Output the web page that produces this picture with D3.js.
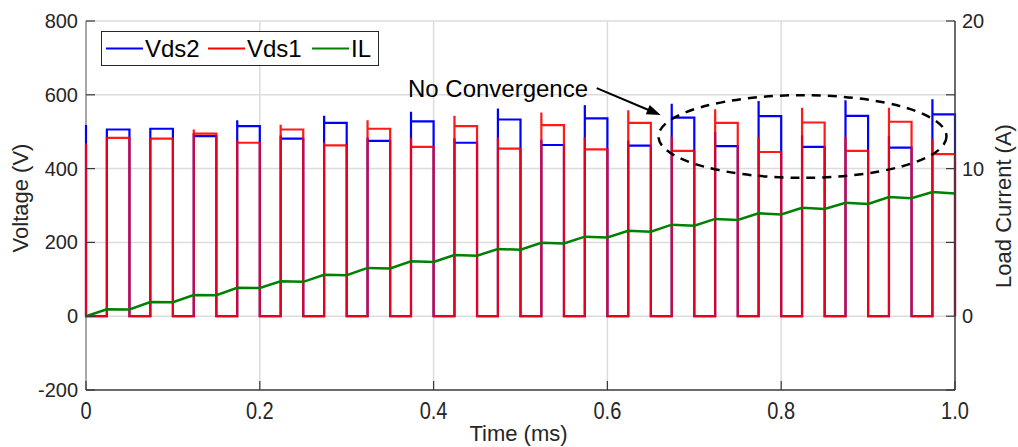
<!DOCTYPE html>
<html>
<head>
<meta charset="utf-8">
<script src="https://cdn.jsdelivr.net/npm/d3@7"></script>
<style>
  html, body { margin: 0; padding: 0; background: #fff; }
  svg { display: block; font-family: "Liberation Sans", Arial, Helvetica, sans-serif; }
</style>
</head>
<body>
<svg id="chart" width="1018" height="447"></svg>
<script>
// ---------------- data ----------------
const xTicks = [0, 0.2, 0.4, 0.6, 0.8, 1.0];
const xTickLabels = ["0", "0.2", "0.4", "0.6", "0.8", "1.0"];
const yTicks = [-200, 0, 200, 400, 600, 800];
const yRightTicks = [-5, 0, 5, 10, 15, 20];
const yRightLabels = [0, 10, 20];

// switching instants (ms)
const riseTimes = [0.024, 0.074, 0.124, 0.174, 0.224, 0.274, 0.324, 0.374, 0.424, 0.474,
                   0.524, 0.574, 0.624, 0.674, 0.724, 0.774, 0.824, 0.874, 0.924, 0.974];
const fallTimes = [0.05, 0.10, 0.15, 0.20, 0.25, 0.30, 0.35, 0.40, 0.45, 0.50,
                   0.55, 0.60, 0.65, 0.70, 0.75, 0.80, 0.85, 0.90, 0.95, 1.00];

// initial value at t = 0 (V)
const vds2Start = 518;
const vds1Start = 468;

// Vds2 (blue) per pulse: spike at turn-off edge and plateau (V)
const vds2Peak = [506, 508, 496, 531, 490, 543, 484, 554, 482, 563,
                  478, 572, 476, 576, 499, 583, 490, 585, 488, 588];
const vds2Flat = [506, 508, 488, 515, 481, 524, 475, 528, 470, 533,
                  464, 536, 462, 538, 461, 542, 459, 543, 457, 547];
// Vds1 (red)
const vds1Peak = [483, 481, 506, 476, 519, 471, 531, 483, 543, 484,
                  552, 484, 558, 486, 561, 486, 565, 486, 565, 480];
const vds1Flat = [483, 481, 495, 470, 506, 463, 508, 459, 515, 454,
                  518, 452, 524, 448, 524, 445, 525, 448, 527, 439];

// Load current IL (A): value at start and end of each plateau
const ilStart = [0.47, 0.96, 1.44, 1.93, 2.36, 2.81, 3.27, 3.72, 4.15, 4.55,
                 4.98, 5.39, 5.79, 6.20, 6.59, 6.97, 7.35, 7.69, 8.08, 8.41];
const ilEnd   = [0.46, 0.95, 1.42, 1.91, 2.33, 2.78, 3.23, 3.68, 4.10, 4.50,
                 4.93, 5.33, 5.73, 6.13, 6.52, 6.89, 7.27, 7.61, 7.99, 8.32];

const legendNames = ["Vds2", "Vds1", "IL"];
const seriesColors = ["#0000ff", "#ff0000", "#008000"];

// annotation (data units)
const noteText = "No Convergence";
const noteTextPos = [0.3705, 594];
const noteArrowFrom = [0.5877, 618];
const noteArrowTo = [0.6613, 545];
const ellipseCenter = [0.8245, 487];
const ellipseRadius = [0.1657, 112];

// ---------------- layout ----------------
const svg = d3.select("#chart");
const m = {left: 86, right: 955, top: 21, bottom: 390};
const x = d3.scaleLinear().domain([0, 1]).range([m.left, m.right]);
const y = d3.scaleLinear().domain([-200, 800]).range([m.bottom, m.top]);
const yR = d3.scaleLinear().domain([-5, 20]).range([m.bottom, m.top]);

// grid
const grid = svg.append("g");
grid.selectAll(".gx").data(xTicks.slice(1, -1)).enter().append("line")
  .attr("x1", d => x(d)).attr("x2", d => x(d)).attr("y1", m.top).attr("y2", m.bottom)
  .attr("stroke", "#dcdcdc").attr("stroke-width", 1.5);
grid.selectAll(".gy").data(yTicks.slice(1)).enter().append("line")
  .attr("x1", m.left).attr("x2", m.right).attr("y1", d => y(d)).attr("y2", d => y(d))
  .attr("stroke", "#dcdcdc").attr("stroke-width", 1.5);

// left axis line under the data
svg.append("line").attr("x1", m.left).attr("x2", m.left).attr("y1", m.top).attr("y2", m.bottom)
  .attr("stroke", "#8a8a8a").attr("stroke-width", 1.5);

// build waveforms
function buildV(start, peak, flat) {
  const pts = [[0, start], [0, 0]];
  riseTimes.forEach((tr, i) => {
    pts.push([tr, 0], [tr, peak[i]], [tr + 0.0001, flat[i]], [fallTimes[i], flat[i]], [fallTimes[i], 0]);
  });
  return pts;
}
const vds2 = buildV(vds2Start, vds2Peak, vds2Flat);
const vds1 = buildV(vds1Start, vds1Peak, vds1Flat);
const il = [[0, 0]];
riseTimes.forEach((tr, i) => { il.push([tr, ilStart[i]], [fallTimes[i], ilEnd[i]]); });

const lineV = d3.line().x(d => x(d[0])).y(d => y(d[1]));
const lineI = d3.line().x(d => x(d[0])).y(d => yR(d[1]));

svg.append("path").datum(vds2).attr("d", lineV).attr("fill", "none")
  .attr("stroke", seriesColors[0]).attr("stroke-width", 2.2);
svg.append("path").datum(vds1).attr("d", lineV).attr("fill", "none")
  .attr("stroke", seriesColors[1]).attr("stroke-width", 2.2).attr("stroke-opacity", 0.9);
svg.append("path").datum(il).attr("d", lineI).attr("fill", "none")
  .attr("stroke", seriesColors[2]).attr("stroke-width", 2.5);

// annotation
const ann = svg.append("g");
ann.append("ellipse")
  .attr("cx", x(ellipseCenter[0])).attr("cy", y(ellipseCenter[1]))
  .attr("rx", x(ellipseRadius[0]) - x(0)).attr("ry", y(0) - y(ellipseRadius[1]))
  .attr("fill", "none").attr("stroke", "#000").attr("stroke-width", 2.5)
  .attr("stroke-dasharray", "9,7");
const ax1 = x(noteArrowFrom[0]), ay1 = y(noteArrowFrom[1]);
const ax2 = x(noteArrowTo[0]), ay2 = y(noteArrowTo[1]);
const ang = Math.atan2(ay2 - ay1, ax2 - ax1);
const hl = 14, hw = 5;
ann.append("line").attr("x1", ax1).attr("y1", ay1)
  .attr("x2", ax2 - hl * 0.8 * Math.cos(ang)).attr("y2", ay2 - hl * 0.8 * Math.sin(ang))
  .attr("stroke", "#000").attr("stroke-width", 2);
const bx = ax2 - hl * Math.cos(ang), by = ay2 - hl * Math.sin(ang);
ann.append("path")
  .attr("d", `M${ax2},${ay2}L${bx - hw * Math.sin(ang)},${by + hw * Math.cos(ang)}L${bx + hw * Math.sin(ang)},${by - hw * Math.cos(ang)}Z`)
  .attr("fill", "#000");
ann.append("text").attr("x", x(noteTextPos[0])).attr("y", y(noteTextPos[1]))
  .attr("font-size", 24).attr("fill", "#000").text(noteText);

// axes
const axes = svg.append("g");
axes.append("line").attr("x1", m.right).attr("x2", m.right).attr("y1", m.top).attr("y2", m.bottom)
  .attr("stroke", "#3a3a3a").attr("stroke-width", 1.5);
axes.append("line").attr("x1", m.left).attr("x2", m.right).attr("y1", m.bottom).attr("y2", m.bottom)
  .attr("stroke", "#3a3a3a").attr("stroke-width", 1.5);

// left ticks
axes.selectAll(".tl").data(yTicks).enter().append("line")
  .attr("x1", m.left).attr("x2", m.left + 9).attr("y1", d => y(d)).attr("y2", d => y(d))
  .attr("stroke", "#3a3a3a").attr("stroke-width", 1.2);
axes.selectAll(".tll").data(yTicks).enter().append("text")
  .attr("x", 78).attr("y", d => y(d) + 7).attr("text-anchor", "end")
  .attr("font-size", 20).attr("fill", "#262626").text(d => d);
// right ticks
axes.selectAll(".tr").data(yRightTicks).enter().append("line")
  .attr("x1", m.right - 9).attr("x2", m.right).attr("y1", d => yR(d)).attr("y2", d => yR(d))
  .attr("stroke", "#3a3a3a").attr("stroke-width", 1.2);
axes.selectAll(".trl").data(yRightLabels).enter().append("text")
  .attr("x", 962).attr("y", d => yR(d) + 7).attr("text-anchor", "start")
  .attr("font-size", 20).attr("fill", "#262626").text(d => d);
// bottom ticks
axes.selectAll(".tb").data(xTicks).enter().append("line")
  .attr("x1", d => x(d)).attr("x2", d => x(d)).attr("y1", m.bottom).attr("y2", m.bottom - 9)
  .attr("stroke", "#3a3a3a").attr("stroke-width", 1.2);
axes.selectAll(".tbl").data(xTicks).enter().append("text")
  .attr("transform", d => `translate(${x(d)},419) scale(1,1.22)`)
  .attr("text-anchor", "middle").attr("font-size", 20).attr("fill", "#262626")
  .text((d, i) => xTickLabels[i]);

// axis titles
svg.append("text").attr("x", (m.left + m.right) / 2 - 2).attr("y", 441)
  .attr("text-anchor", "middle").attr("font-size", 22).attr("fill", "#262626").text("Time (ms)");
svg.append("text").attr("transform", "translate(28,198) rotate(-90)")
  .attr("text-anchor", "middle").attr("font-size", 22).attr("fill", "#262626").text("Voltage (V)");
svg.append("text").attr("transform", "translate(1011,206) rotate(-90)")
  .attr("text-anchor", "middle").attr("font-size", 22).attr("fill", "#262626").text("Load Current (A)");

// legend
const lg = svg.append("g");
lg.append("rect").attr("x", 101.5).attr("y", 31.5).attr("width", 277).attr("height", 34)
  .attr("fill", "#fff").attr("stroke", "#262626").attr("stroke-width", 1);
const lgX = [106, 208, 312];
legendNames.forEach((n, i) => {
  lg.append("line").attr("x1", lgX[i]).attr("x2", lgX[i] + 37).attr("y1", 48.5).attr("y2", 48.5)
    .attr("stroke", seriesColors[i]).attr("stroke-width", 2);
  lg.append("text").attr("x", lgX[i] + 39).attr("y", 57.3).attr("font-size", 24)
    .attr("fill", "#000").text(n);
});
</script>
</body>
</html>
